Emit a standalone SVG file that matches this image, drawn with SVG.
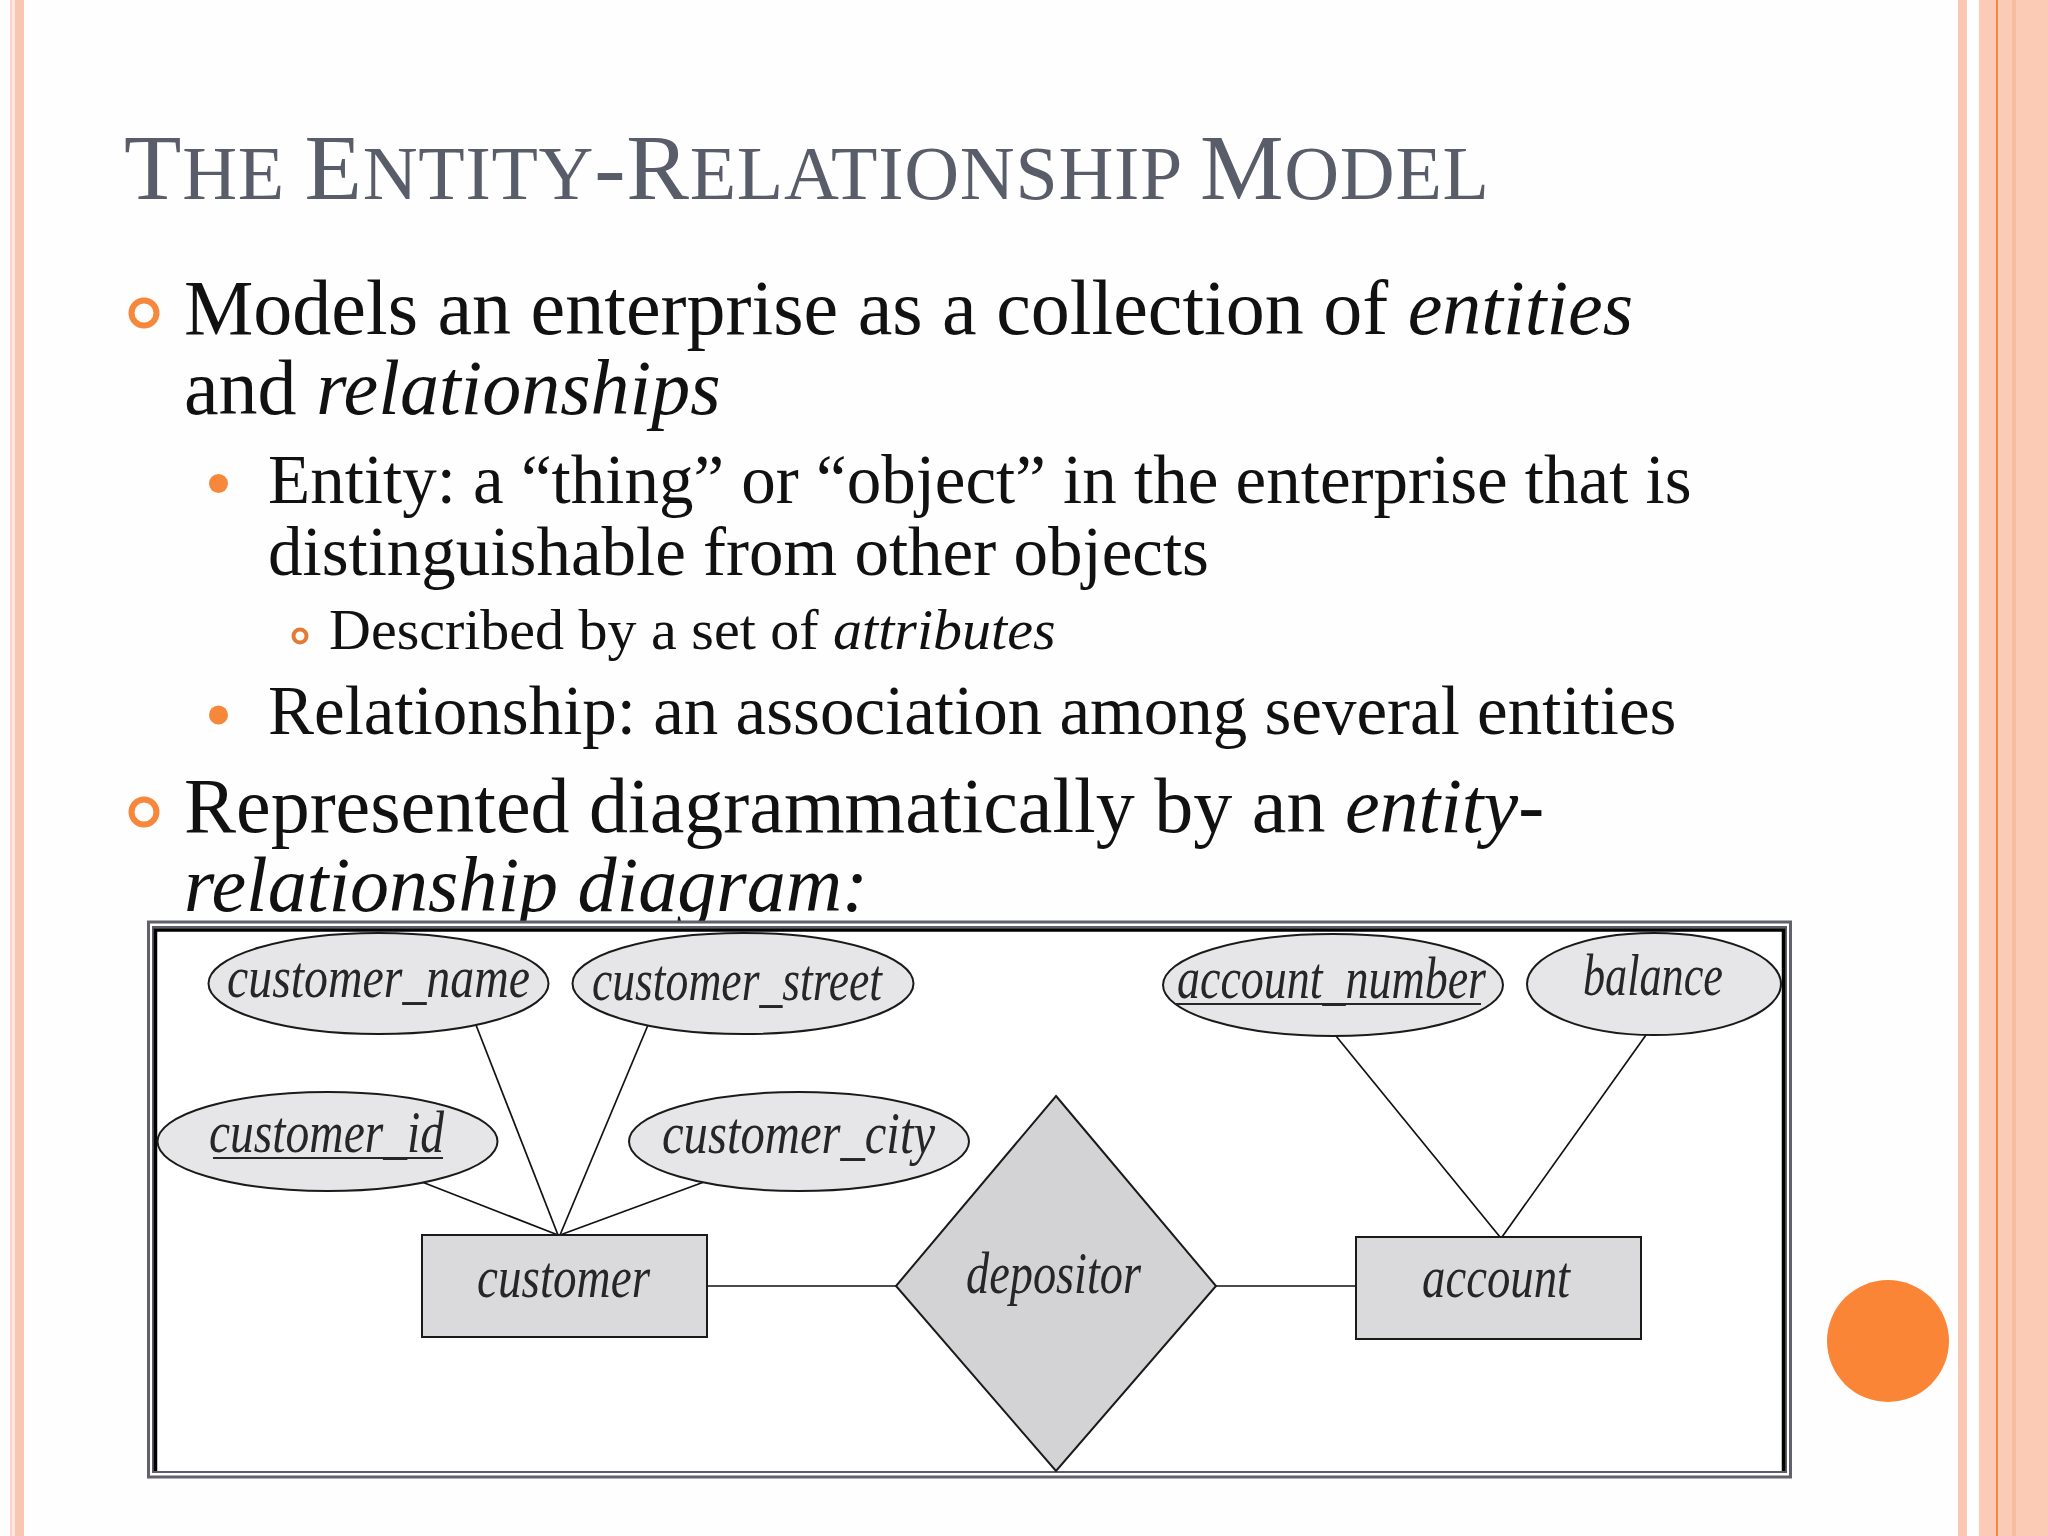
<svg xmlns="http://www.w3.org/2000/svg" width="2048" height="1536" viewBox="0 0 2048 1536">
<defs>
<style>
.title{font-family:"Liberation Serif",serif;fill:#595d69}
.body{font-family:"Liberation Serif",serif;fill:#111}
.it{font-style:italic}
.ring{fill:none;stroke:#f7873a}
.dot{fill:#f7873a}
.attr{fill:#e6e6e8;stroke:#1a1a1a;stroke-width:2}
.ent{fill:#dadadc;stroke:#1a1a1a;stroke-width:2}
.rel{fill:#d3d3d5;stroke:#1a1a1a;stroke-width:2}
.lbl{font-family:"Liberation Serif",serif;font-style:italic;font-size:60px;fill:#262626;text-anchor:middle}
.ul{stroke:#262626;stroke-width:2}
.conn line{stroke:#111;stroke-width:1.7}
</style>
</defs>
<rect x="0" y="0" width="2048" height="1536" fill="#fefefe"/>
<!-- left stripes -->
<rect x="10" y="0" width="2" height="1536" fill="#fbd3c4"/>
<rect x="12" y="0" width="3" height="1536" fill="#fde6dd"/>
<rect x="15" y="0" width="9" height="1536" fill="#f9c6b1"/>
<!-- right stripes -->
<rect x="1958" y="0" width="9" height="1536" fill="#fbc7b3"/>
<rect x="1979" y="0" width="69" height="1536" fill="#fbcbb6"/>
<rect x="2012" y="0" width="4" height="1536" fill="#f6bda2"/>
<rect x="1996" y="0" width="2" height="1536" fill="#f28a42"/>
<!-- orange circle -->
<circle cx="1888" cy="1341" r="61" fill="#fa8536"/>

<!-- title -->
<text class="title" x="124" y="199" textLength="1365"><tspan font-size="94">T</tspan><tspan font-size="76">HE </tspan><tspan font-size="94">E</tspan><tspan font-size="76">NTITY</tspan><tspan font-size="94">-R</tspan><tspan font-size="76">ELATIONSHIP </tspan><tspan font-size="94">M</tspan><tspan font-size="76">ODEL</tspan></text>

<!-- bullets -->
<circle class="ring" cx="144" cy="313" r="12.5" stroke-width="6"/>
<text class="body" x="184" y="334" font-size="78">Models an enterprise as a collection of <tspan class="it">entities</tspan></text>
<text class="body" x="184" y="414" font-size="78">and <tspan class="it">relationships</tspan></text>
<circle class="dot" cx="218.5" cy="483.5" r="9.5"/>
<text class="body" x="268" y="503" font-size="69">Entity: a “thing” or “object” in the enterprise that is</text>
<text class="body" x="268" y="575" font-size="69">distinguishable from other objects</text>
<circle class="ring" cx="300" cy="636" r="6.5" stroke-width="4" style="stroke:#e47b34"/>
<text class="body" x="329" y="649" font-size="58">Described by a set of <tspan class="it">attributes</tspan></text>
<circle class="dot" cx="218.5" cy="715" r="9.5"/>
<text class="body" x="268" y="734" font-size="69">Relationship: an association among several entities</text>
<circle class="ring" cx="144" cy="812" r="12.5" stroke-width="6"/>
<text class="body" x="184" y="832" font-size="78">Represented diagrammatically by an <tspan class="it">entity-</tspan></text>
<text class="body it" x="184" y="911" font-size="78">relationship diagram:</text>

<!-- frame -->
<g id="frame">
<rect x="148.5" y="922" width="1642" height="555" fill="#fff" stroke="#60606e" stroke-width="3"/>
<rect x="153" y="927" width="1633" height="545" fill="none" stroke="#5c5c6a" stroke-width="2"/>
<path d="M155.5 1471 V930 H1783.5 V1471" fill="none" stroke="#000" stroke-width="3.5"/>
</g>

<!-- connectors -->
<g id="connectors" class="conn">
<line x1="476" y1="1025" x2="558" y2="1235"/>
<line x1="648" y1="1025" x2="560" y2="1235"/>
<line x1="422" y1="1182" x2="558" y2="1235"/>
<line x1="704" y1="1182" x2="560" y2="1235"/>
<line x1="707" y1="1286" x2="896" y2="1286"/>
<line x1="1216" y1="1286" x2="1356" y2="1286"/>
<line x1="1336" y1="1036" x2="1500" y2="1237"/>
<line x1="1646" y1="1035" x2="1502" y2="1237"/>
</g>

<g id="customer_name">
<ellipse class="attr" cx="378.5" cy="983.5" rx="170" ry="50.5"/>
<text class="lbl" x="378.5" y="997" textLength="303" lengthAdjust="spacingAndGlyphs">customer_name</text>
</g>
<g id="customer_street">
<ellipse class="attr" cx="743" cy="983.5" rx="170.5" ry="50.5"/>
<text class="lbl" x="737" y="1000" textLength="290" lengthAdjust="spacingAndGlyphs">customer_street</text>
</g>
<g id="customer_id">
<ellipse class="attr" cx="327.5" cy="1141.5" rx="170" ry="49.5"/>
<text class="lbl" x="326.5" y="1152" textLength="235" lengthAdjust="spacingAndGlyphs">customer_id</text>
<line class="ul" x1="213" y1="1158" x2="443" y2="1158"/>
</g>
<g id="customer_city">
<ellipse class="attr" cx="799" cy="1141.5" rx="170" ry="49.5"/>
<text class="lbl" x="798.5" y="1153" textLength="273" lengthAdjust="spacingAndGlyphs">customer_city</text>
</g>
<g id="customer">
<rect class="ent" x="422" y="1235" width="285" height="102"/>
<text class="lbl" x="563.5" y="1297" textLength="173" lengthAdjust="spacingAndGlyphs">customer</text>
</g>
<g id="depositor">
<polygon class="rel" points="1056,1096 1216,1286 1056,1471 896,1286"/>
<text class="lbl" x="1053.5" y="1293" textLength="175" lengthAdjust="spacingAndGlyphs">depositor</text>
</g>
<g id="account">
<rect class="ent" x="1356" y="1237" width="285" height="102"/>
<text class="lbl" x="1496" y="1297" textLength="148" lengthAdjust="spacingAndGlyphs">account</text>
</g>
<g id="account_number">
<ellipse class="attr" cx="1333" cy="985" rx="170" ry="51"/>
<text class="lbl" x="1331.5" y="998" textLength="309" lengthAdjust="spacingAndGlyphs">account_number</text>
<line class="ul" x1="1176" y1="1004" x2="1481" y2="1004"/>
</g>
<g id="balance">
<ellipse class="attr" cx="1654" cy="984" rx="127" ry="51"/>
<text class="lbl" x="1653" y="995" textLength="140" lengthAdjust="spacingAndGlyphs">balance</text>
</g>
</svg>
